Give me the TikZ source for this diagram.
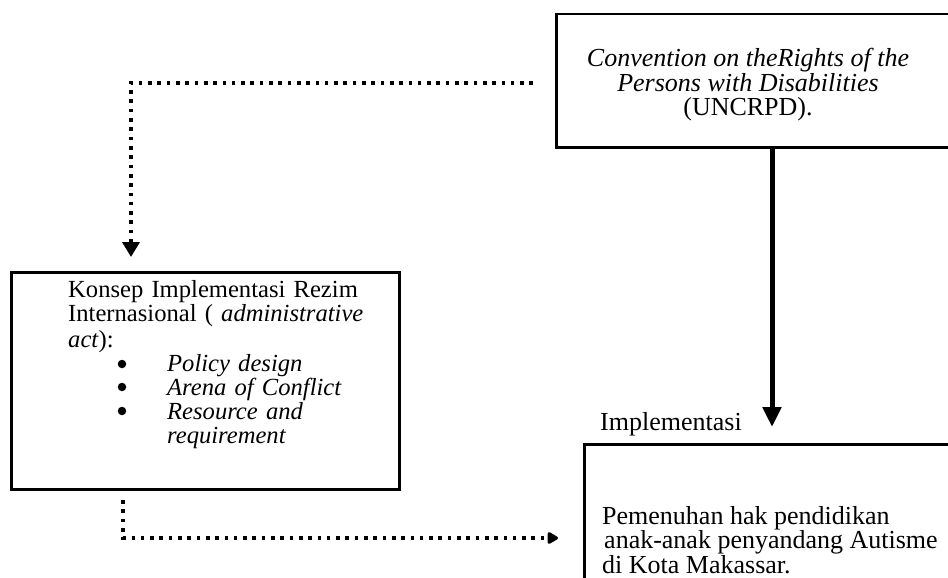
\documentclass[tikz,border=0pt]{standalone}
\usepackage{fontspec}
\setmainfont{Liberation Serif}
\usetikzlibrary{arrows.meta}
\begin{document}
\begin{tikzpicture}[x=1pt,y=-1pt,
  box/.style={draw, line width=2.5pt, inner sep=0pt, rectangle},
  txt/.style={inner sep=0pt, font=\fontsize{26}{24.5}\selectfont},
  ltxt/.style={inner sep=0pt, font=\fontsize{24.6}{24.2}\selectfont},
  bul/.style={circle, fill, inner sep=0pt, minimum size=8.5pt},
  dotline/.style={line width=3.6pt, dash pattern=on 3.6pt off 5.7pt},
  solidarrow/.style={line width=5pt, -{Triangle[width=18pt,length=20pt]}}]
\useasboundingbox (0,0) rectangle (948,578);
\clip (0,0) rectangle (948,578);
% boxes
\node[box, anchor=north west, minimum width=420pt, minimum height=133pt] (conv) at (555,13) {};
\node[box, anchor=north west, minimum width=388pt, minimum height=217pt] (konsep) at (10,271) {};
\node[box, anchor=north west, minimum width=400pt, minimum height=200pt] (hak) at (583,443) {};
% texts
\node[txt, anchor=north, align=center] (convtext) at (748,48)
  {\textit{Convention on theRights of the}\\ \textit{Persons with Disabilities}\\ (UNCRPD).};
\node[ltxt, anchor=north west, align=left, text width=300pt] (konseptext) at (68,280)
  {\makebox[290pt][s]{Konsep Implementasi Rezim}\\
   \makebox[290pt][s]{Internasional ( \textit{administrative}}\\[2pt]
   \textit{act}):\\
   \hspace*{99pt}\textit{Policy design}\\[-1pt]
   \hspace*{99pt}\textit{Arena of Conflict}\\
   \hspace*{99pt}\textit{Resource and}\\
   \hspace*{99pt}\textit{requirement}};
\node[bul] (bul1) at (122,364) {};
\node[bul] (bul2) at (122,387) {};
\node[bul] (bul3) at (122,411) {};
\node[txt, anchor=base west] (impl) at (600,430) {Implementasi};
\node[txt, anchor=north west, align=left] (haktext) at (602,506)
  {Pemenuhan hak pendidikan\\ \hspace*{2pt}anak-anak penyandang Autisme\\ di Kota Makassar.};
% connectors
\coordinate (solidend) at (772,427);
\draw[solidarrow] (conv.south west -| solidend) -- (solidend);
\coordinate (d1) at (533,83);
\coordinate (d2) at (131,257);
\draw[dotline, -{Triangle[width=17pt,length=15pt]}] (d1) -| (d2);
\coordinate (e1) at (123,500);
\coordinate (e2) at (558,538);
\draw[dotline, -{Triangle[round,width=13pt,length=12pt]}] (e1) |- (e2);
\end{tikzpicture}
\end{document}
